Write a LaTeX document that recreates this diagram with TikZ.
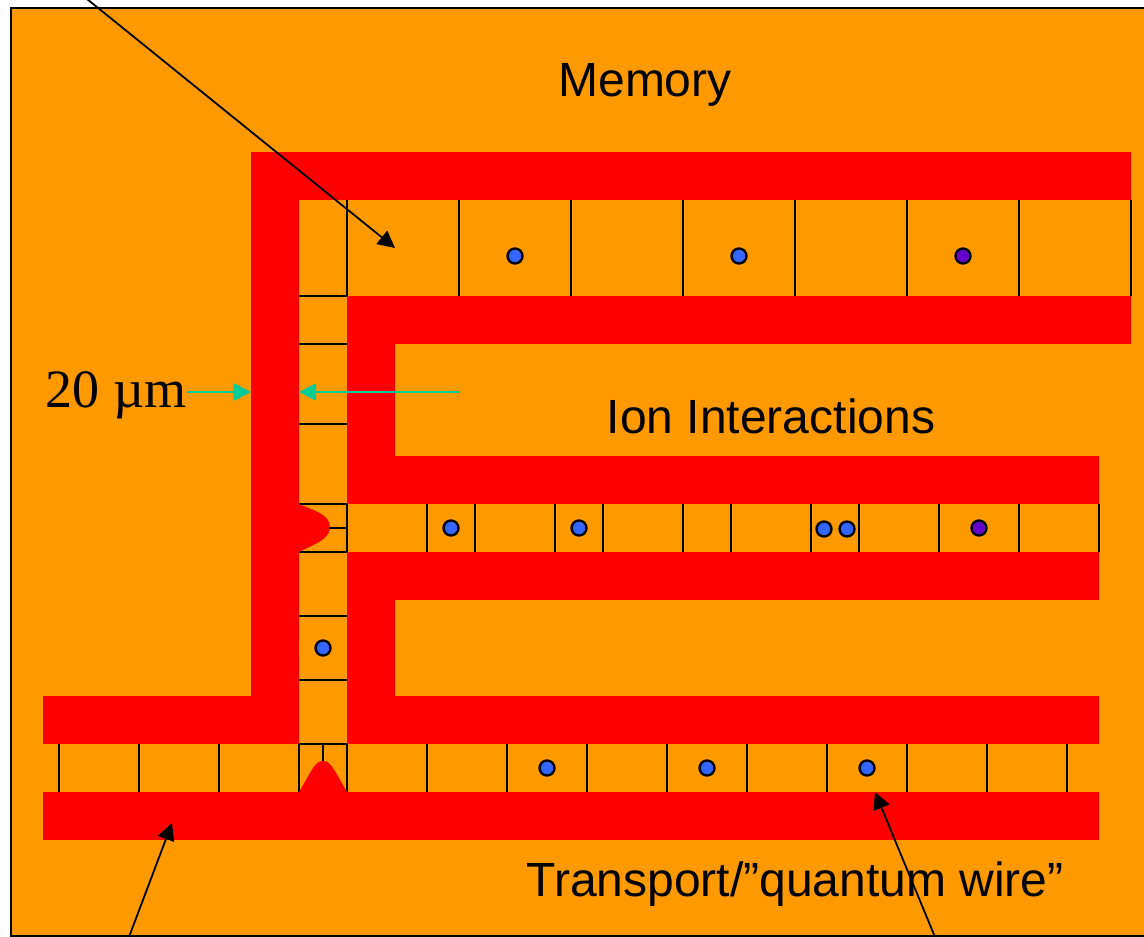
\documentclass[tikz,border=0pt]{standalone}
\usepackage{fontspec}
\setmainfont{Liberation Sans}
\newfontfamily\serifface{Liberation Serif}
\usetikzlibrary{arrows.meta}
\definecolor{chipOrange}{HTML}{FF9900}
\definecolor{ionBlue}{HTML}{3366FF}
\definecolor{ionPurple}{HTML}{6600CC}
\definecolor{gapTeal}{HTML}{00CC99}

\begin{document}
\begin{tikzpicture}[x=1pt, y=-1pt,
    electrode/.style={fill=red, draw=none},
    cellwall/.style={draw=black, line width=2.8pt},
    ion/.style={circle, draw=black, line width=2.4pt, inner sep=0pt, minimum size=15pt},
    blueion/.style={ion, fill=ionBlue},
    purpleion/.style={ion, fill=ionPurple},
    title/.style={inner sep=0pt, font=\fontsize{48}{56}\selectfont},
    pointer/.style={draw=black, line width=1.8pt, -{Triangle[length=17pt, width=17pt]}},
    gaparrow/.style={draw=gapTeal, line width=1.8pt, -{Triangle[length=17pt, width=17pt]}}]
\clip (0,0) rectangle (1144,937);
\draw[fill=chipOrange, draw=black, line width=2.4pt] (11,8) rectangle (1160,936);

% electrodes
\fill[electrode] (251,152) rectangle (1131,200);
\fill[electrode] (251,152) rectangle (299,744);
\fill[electrode] (43,696) rectangle (299,744);
\fill[electrode] (347,296) rectangle (1131,344);
\fill[electrode] (347,296) rectangle (395,504);
\fill[electrode] (347,456) rectangle (1099,504);
\fill[electrode] (347,552) rectangle (1099,600);
\fill[electrode] (347,552) rectangle (395,744);
\fill[electrode] (347,696) rectangle (1099,744);
\fill[electrode] (43,792) rectangle (1099,840);

% memory cells
\draw[cellwall] (347,200) -- (347,296) (459,200) -- (459,296) (571,200) -- (571,296)
    (683,200) -- (683,296) (795,200) -- (795,296) (907,200) -- (907,296)
    (1019,200) -- (1019,296) (1131,200) -- (1131,296);
% interaction cells
\draw[cellwall] (347,504) -- (347,552) (427,504) -- (427,552) (475,504) -- (475,552)
    (555,504) -- (555,552) (603,504) -- (603,552) (683,504) -- (683,552)
    (731,504) -- (731,552) (811,504) -- (811,552) (859,504) -- (859,552)
    (939,504) -- (939,552) (1019,504) -- (1019,552) (1099,504) -- (1099,552);
% transport cells
\draw[cellwall] (59,744) -- (59,792) (139,744) -- (139,792) (219,744) -- (219,792)
    (299,744) -- (299,792) (347,744) -- (347,792) (427,744) -- (427,792)
    (507,744) -- (507,792) (587,744) -- (587,792) (667,744) -- (667,792)
    (747,744) -- (747,792) (827,744) -- (827,792) (907,744) -- (907,792)
    (987,744) -- (987,792) (1067,744) -- (1067,792);
% vertical channel
\draw[cellwall] (299,296) -- (347,296) (299,344) -- (347,344) (299,424) -- (347,424)
    (299,504) -- (347,504) (299,552) -- (347,552) (299,616) -- (347,616)
    (299,680) -- (347,680) (299,744) -- (347,744)
    (323,528) -- (347,528) (323,744) -- (323,770);

% potential bumps
\fill[electrode] (299,504) .. controls (312,510) and (330,514) .. (330,527)
    .. controls (330,540) and (312,545) .. (299,552) -- cycle;
\fill[electrode] (299,792) .. controls (312,770) and (315,761) .. (323,761)
    .. controls (331,761) and (334,770) .. (347,792) -- cycle;

\node[blueion] (mem1) at (515,256) {};
\node[blueion] (mem2) at (739,256) {};
\node[purpleion] (mem3) at (963,256) {};
\node[blueion] (int1) at (451,528) {};
\node[blueion] (int2) at (579,528) {};
\node[blueion] (int3) at (824,529) {};
\node[blueion] (int4) at (847,529) {};
\node[purpleion] (int5) at (979,528) {};
\node[blueion] (chan1) at (323,648) {};
\node[blueion] (wire1) at (547,768) {};
\node[blueion] (wire2) at (707,768) {};
\node[blueion] (wire3) at (867,768) {};

\node[title] (memory) at (645,85) {Memory};
\node[title] (interact) at (771,416) {Ion Interactions};
\node[title] (transport) at (795,884) {Transport/”quantum wire”};
\node[inner sep=0pt, font=\fontsize{54}{60}\selectfont\serifface] (width) at (116,395) {20 µm};

\coordinate (gapleft) at (251,392);
\coordinate (gapright) at (299,392);
\coordinate (gapstart) at (460,392);
\draw[gaparrow] (width.east |- gapleft) -- (gapleft);
\draw[gaparrow] (gapstart) -- (gapright);

\coordinate (memfrom) at (87,-1);
\coordinate (memto) at (395,248);
\coordinate (railfrom) at (129,937);
\coordinate (railto) at (172,823);
\coordinate (wirefrom) at (935,937);
\coordinate (wireto) at (875,792);
\draw[pointer] (memfrom) -- (memto);
\draw[pointer] (railfrom) -- (railto);
\draw[pointer] (wirefrom) -- (wireto);
\end{tikzpicture}
\end{document}
